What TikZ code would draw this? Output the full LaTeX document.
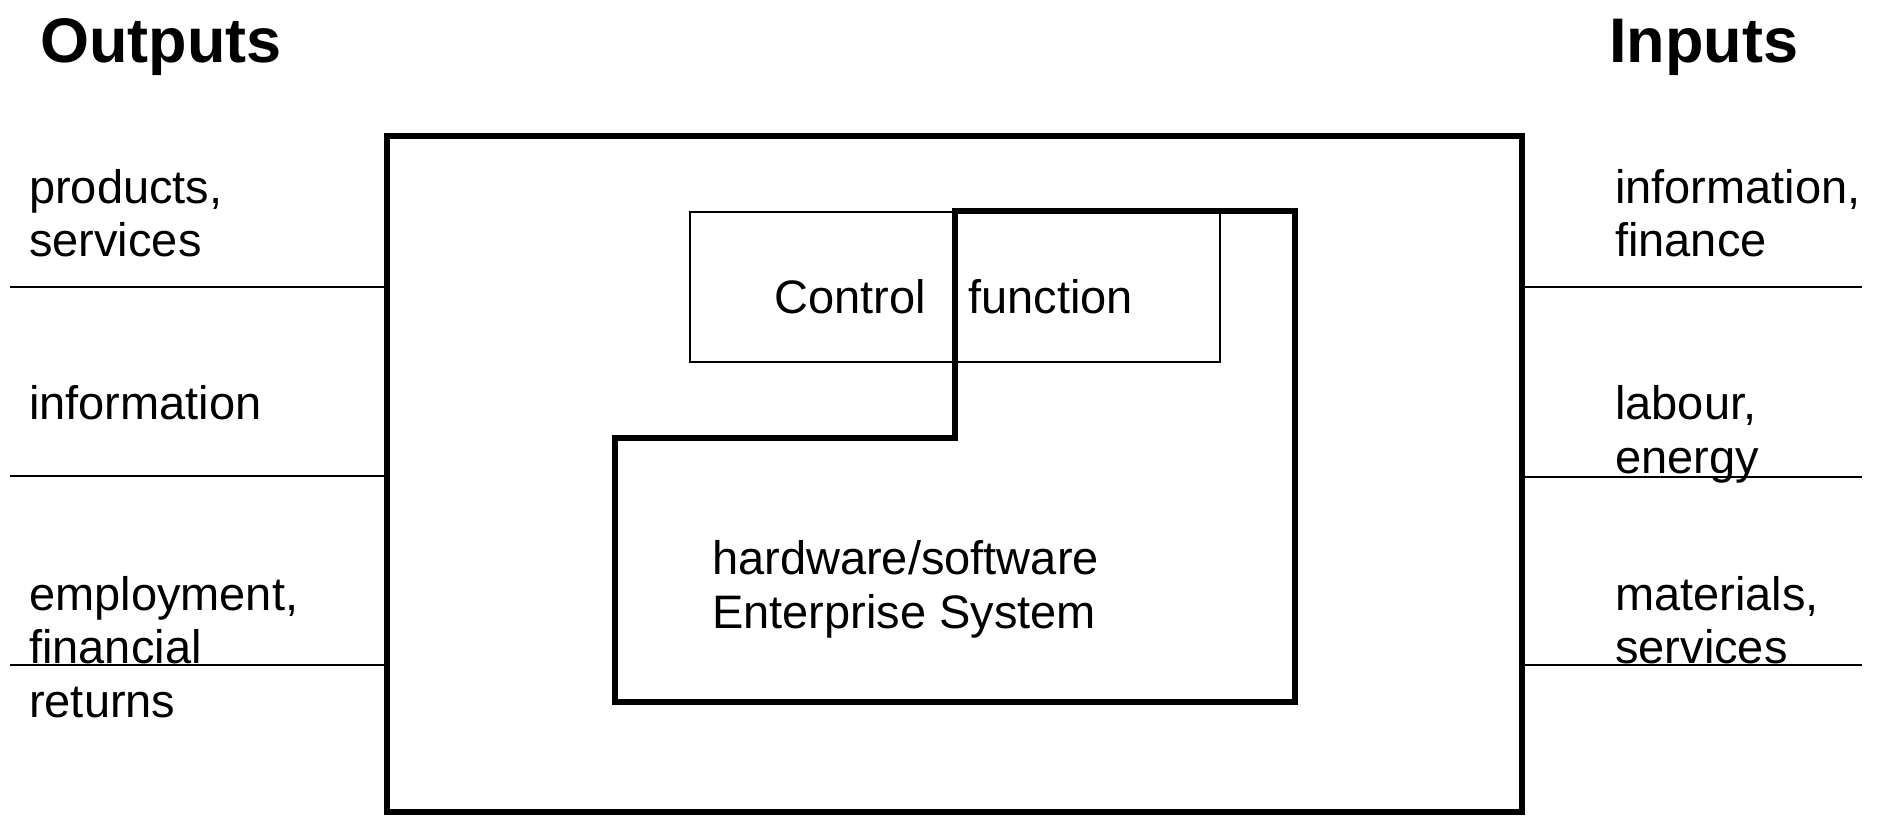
\documentclass[tikz,border=0pt]{standalone}
\usepackage{fontspec}
\setmainfont{Liberation Sans}
\begin{document}
\begin{tikzpicture}[x=1pt,y=-1pt]
\tikzset{
  heavy/.style={line width=6pt, line join=miter},
  fine/.style={line width=2pt},
  txt/.style={anchor=base west, inner sep=0pt, font=\fontsize{47}{54}\selectfont},
  heading/.style={anchor=base west, inner sep=0pt, font=\fontsize{63}{70}\selectfont\bfseries},
}
\useasboundingbox (0,0) rectangle (1886,815);

% enterprise boundary
\coordinate (boxTL) at (387,136);
\coordinate (boxBR) at (1522,812);
\draw[heavy] (boxTL) rectangle (boxBR);

% output dividers (left)
\coordinate (lo1) at (10,287);   \coordinate (li1) at (387,287);
\coordinate (lo2) at (10,476);   \coordinate (li2) at (387,476);
\coordinate (lo3) at (10,665);   \coordinate (li3) at (387,665);
\draw[fine] (lo1) -- (li1);
\draw[fine] (lo2) -- (li2);
\draw[fine] (lo3) -- (li3);

% input dividers (right)
\coordinate (ri1) at (1522,287); \coordinate (ro1) at (1862,287);
\coordinate (ri2) at (1522,477); \coordinate (ro2) at (1862,477);
\coordinate (ri3) at (1522,665); \coordinate (ro3) at (1862,665);
\draw[fine] (ri1) -- (ro1);
\draw[fine] (ri2) -- (ro2);
\draw[fine] (ri3) -- (ro3);

% control function box
\coordinate (ctlTL) at (690,212);
\coordinate (ctlBR) at (1220,362);
\draw[fine] (ctlTL) rectangle (ctlBR);

% hardware/software system outline
\coordinate (s1) at (615,438);
\coordinate (s2) at (955,438);
\coordinate (s3) at (955,211);
\coordinate (s4) at (1295,211);
\coordinate (s5) at (1295,702);
\coordinate (s6) at (615,702);
\draw[heavy] (s1) -- (s2) -- (s3) -- (s4) -- (s5) -- (s6) -- cycle;

% headings
\node[heading] (outputs) at (40,62) {Outputs};
\node[heading] (inputs) at (1609,62) {Inputs};

% output labels
\node[txt] (out1a) at (29,203) {products,};
\node[txt] (out1b) at (29,256) {services};
\node[txt] (out2) at (29,419) {information};
\node[txt] (out3a) at (29,610) {employment,};
\node[txt] (out3b) at (29,663) {financial};
\node[txt] (out3c) at (29,717) {returns};

% input labels
\node[txt] (in1a) at (1615,203) {information,};
\node[txt] (in1b) at (1615,256) {finance};
\node[txt] (in2a) at (1615,419) {labour,};
\node[txt] (in2b) at (1615,473) {energy};
\node[txt] (in3a) at (1615,610) {materials,};
\node[txt] (in3b) at (1615,663) {services};

% inner labels
\node[txt] (ctl) at (774,313) {Control};
\node[txt] (fn) at (968,313) {function};
\node[txt] (hw) at (712,574) {hardware/software};
\node[txt] (es) at (712,628) {Enterprise System};
\end{tikzpicture}
\end{document}
